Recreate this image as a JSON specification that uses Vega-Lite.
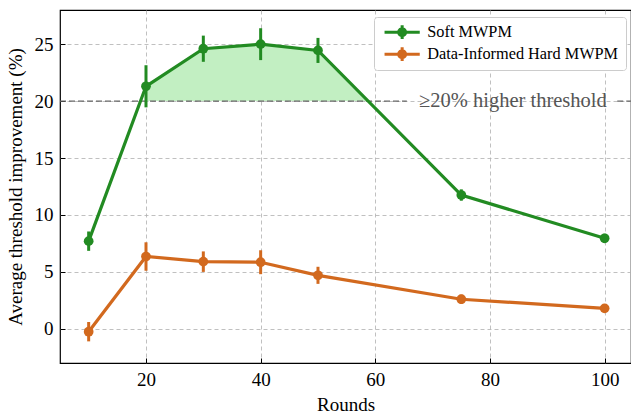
{
  "$schema": "https://vega.github.io/schema/vega-lite/v6.json",
  "width": 571,
  "height": 353,
  "autosize": {"type": "none"},
  "padding": {"left": 60, "top": 10, "right": 0, "bottom": 51},
  "config": {
    "font": "Liberation Serif",
    "view": {"stroke": "black", "strokeWidth": 1.2},
    "axis": {
      "domain": false,
      "grid": true,
      "gridColor": "#b0b0b0",
      "gridDash": [4, 3],
      "gridWidth": 0.8,
      "tickColor": "black",
      "tickSize": -5,
      "tickWidth": 1,
      "labelFont": "Liberation Serif",
      "labelFontSize": 19,
      "labelColor": "black",
      "titleFont": "Liberation Serif",
      "titleFontSize": 19,
      "titleFontWeight": "normal",
      "titleColor": "black",
      "zindex": 1
    }
  },
  "datasets": {
    "series": [
      {"rounds": 10, "value": 7.7, "err": 0.85, "method": "Soft MWPM"},
      {"rounds": 20, "value": 21.3, "err": 1.85, "method": "Soft MWPM"},
      {"rounds": 30, "value": 24.6, "err": 1.15, "method": "Soft MWPM"},
      {"rounds": 40, "value": 25.0, "err": 1.4, "method": "Soft MWPM"},
      {"rounds": 50, "value": 24.45, "err": 1.1, "method": "Soft MWPM"},
      {"rounds": 75, "value": 11.75, "err": 0.5, "method": "Soft MWPM"},
      {"rounds": 100, "value": 7.95, "err": 0.4, "method": "Soft MWPM"},
      {"rounds": 10, "value": -0.25, "err": 0.85, "method": "Data-Informed Hard MWPM"},
      {"rounds": 20, "value": 6.35, "err": 1.25, "method": "Data-Informed Hard MWPM"},
      {"rounds": 30, "value": 5.9, "err": 0.9, "method": "Data-Informed Hard MWPM"},
      {"rounds": 40, "value": 5.85, "err": 1.05, "method": "Data-Informed Hard MWPM"},
      {"rounds": 50, "value": 4.7, "err": 0.75, "method": "Data-Informed Hard MWPM"},
      {"rounds": 75, "value": 2.6, "err": 0.4, "method": "Data-Informed Hard MWPM"},
      {"rounds": 100, "value": 1.8, "err": 0.3, "method": "Data-Informed Hard MWPM"}
    ],
    "fill": [
      {"rounds": 20, "value": 21.3, "base": 20},
      {"rounds": 30, "value": 24.6, "base": 20},
      {"rounds": 40, "value": 25.0, "base": 20},
      {"rounds": 50, "value": 24.45, "base": 20},
      {"rounds": 58.7, "value": 20, "base": 20}
    ],
    "refline": [
      {"start": 5, "end": 65.5, "level": 20},
      {"start": 102.2, "end": 104.6, "level": 20}
    ],
    "label": [
      {"rounds": 84.0, "level": 20, "text": "≥20% higher threshold"}
    ]
  },
  "layer": [
    {
      "data": {"name": "fill"},
      "mark": {"type": "area", "color": "#c2efc2", "opacity": 1},
      "encoding": {
        "x": {
          "field": "rounds", "type": "quantitative", "title": "Rounds",
          "scale": {"domain": [5, 104.6], "nice": false, "zero": false},
          "axis": {"title": "Rounds", "values": [20, 40, 60, 80, 100], "labelPadding": 12, "titlePadding": 6}
        },
        "y": {
          "field": "value", "type": "quantitative", "title": "Average threshold improvement (%)",
          "scale": {"domain": [-3, 28], "nice": false, "zero": false},
          "axis": {"title": "Average threshold improvement (%)", "values": [0, 5, 10, 15, 20, 25], "labelPadding": 12, "titlePadding": 9}
        },
        "y2": {"field": "base"}
      }
    },
    {
      "data": {"name": "refline"},
      "mark": {"type": "rule", "color": "#666666", "strokeDash": [6, 3], "strokeWidth": 1.4},
      "encoding": {
        "x": {"field": "start", "type": "quantitative", "title": "Rounds"},
        "x2": {"field": "end"},
        "y": {"field": "level", "type": "quantitative", "title": "Average threshold improvement (%)"}
      }
    },
    {
      "data": {"name": "label"},
      "mark": {"type": "text", "font": "Liberation Serif", "fontSize": 20.5, "color": "#555555", "align": "center", "baseline": "middle"},
      "encoding": {
        "x": {"field": "rounds", "type": "quantitative", "title": "Rounds"},
        "y": {"field": "level", "type": "quantitative", "title": "Average threshold improvement (%)"},
        "text": {"field": "text"}
      }
    },
    {
      "data": {"name": "series"},
      "mark": {"type": "line", "strokeWidth": 3.2},
      "encoding": {
        "x": {"field": "rounds", "type": "quantitative", "title": "Rounds"},
        "y": {"field": "value", "type": "quantitative", "title": "Average threshold improvement (%)"},
        "color": {
          "field": "method", "type": "nominal",
          "scale": {"domain": ["Soft MWPM", "Data-Informed Hard MWPM"], "range": ["#228B22", "#D2691E"]},
          "legend": {
            "title": null,
            "orient": "none",
            "legendX": 314,
            "legendY": 7,
            "symbolType": "M-2.2,-0.19 L2.2,-0.19 L2.2,0.19 L-2.2,0.19 Z M-0.19,-0.85 L0.19,-0.85 L0.19,0.85 L-0.19,0.85 Z M-0.62,0 A0.62,0.62 0 1 1 0.62,0 A0.62,0.62 0 1 1 -0.62,0 Z",
            "symbolSize": 256,
            "symbolStrokeWidth": 0,
            "symbolOpacity": 1,
            "symbolOffset": 13,
            "labelFont": "Liberation Serif",
            "labelFontSize": 16.3,
            "labelColor": "black",
            "labelOffset": 17,
            "labelLimit": 400,
            "rowPadding": 5,
            "padding": 7,
            "strokeColor": "#cccccc",
            "fillColor": "white",
            "cornerRadius": 3
          }
        }
      }
    },
    {
      "data": {"name": "series"},
      "mark": {"type": "errorbar", "thickness": 3},
      "encoding": {
        "x": {"field": "rounds", "type": "quantitative", "title": "Rounds"},
        "y": {"field": "value", "type": "quantitative", "title": "Average threshold improvement (%)"},
        "yError": {"field": "err"},
        "color": {"field": "method", "type": "nominal"}
      }
    },
    {
      "data": {"name": "series"},
      "mark": {"type": "point", "filled": true, "opacity": 1, "size": 95},
      "encoding": {
        "x": {"field": "rounds", "type": "quantitative", "title": "Rounds"},
        "y": {"field": "value", "type": "quantitative", "title": "Average threshold improvement (%)"},
        "color": {"field": "method", "type": "nominal"}
      }
    }
  ]
}
